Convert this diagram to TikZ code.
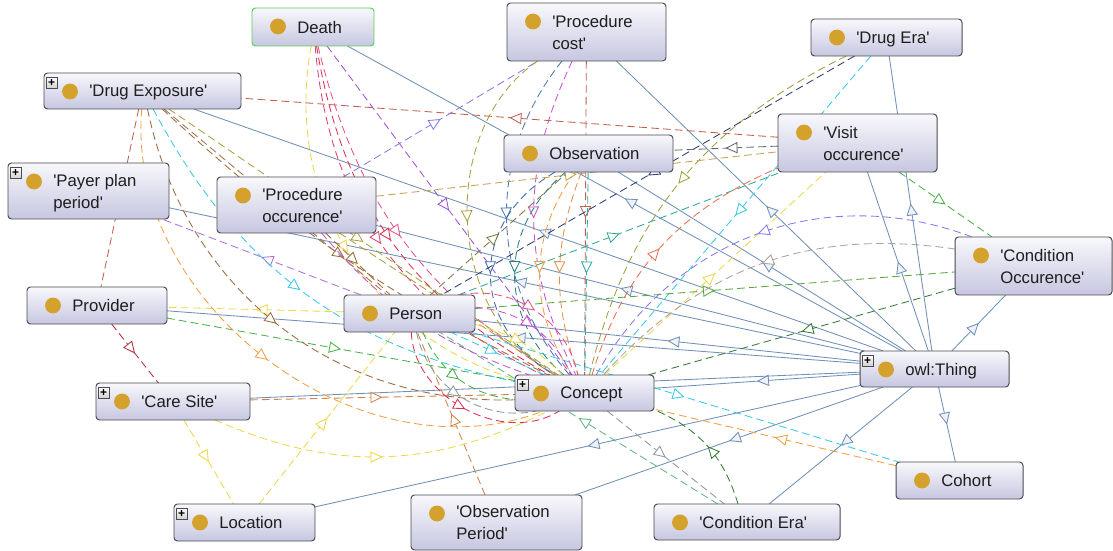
\documentclass[tikz,border=0pt]{standalone}
\usepackage{fontspec}
\setmainfont{Liberation Sans}
\usetikzlibrary{arrows.meta,decorations.markings}

\pgfdeclarelayer{edges}
\pgfsetlayers{edges,main}

% straight quote used in the class names
\newcommand\sq{\textquotesingle}

% box and text colours
\definecolor{boxline}{HTML}{4A4A52}
\definecolor{boxtop}{HTML}{F8F8FC}
\definecolor{boxbot}{HTML}{C6C7E0}
\definecolor{gold}{HTML}{D4A22C}
\definecolor{txt}{HTML}{1E1E1E}
\definecolor{isacol}{HTML}{7090B8}
\definecolor{isafill}{HTML}{EEF2F8}
\definecolor{deathline}{HTML}{5ACD5A}
% property colours
\definecolor{brick}{HTML}{C0604C}
\definecolor{violet1}{HTML}{8A78E8}
\definecolor{purple1}{HTML}{A050D8}
\definecolor{pink1}{HTML}{E8508A}
\definecolor{red1}{HTML}{D83050}
\definecolor{rose}{HTML}{E04070}
\definecolor{yellow1}{HTML}{EDD84A}
\definecolor{olive1}{HTML}{A8A040}
\definecolor{blue1}{HTML}{4A78B0}
\definecolor{magenta1}{HTML}{C850D0}
\definecolor{teal1}{HTML}{30A8A8}
\definecolor{blue2}{HTML}{3A6AA8}
\definecolor{teal2}{HTML}{2A8080}
\definecolor{orange1}{HTML}{EEA040}
\definecolor{orange2}{HTML}{E09050}
\definecolor{cyan1}{HTML}{38C8E8}
\definecolor{olive2}{HTML}{9AA040}
\definecolor{navy}{HTML}{2C3C70}
\definecolor{olive3}{HTML}{7A7A48}
\definecolor{gray1}{HTML}{606870}
\definecolor{ochre}{HTML}{C8A050}
\definecolor{teal3}{HTML}{30A890}
\definecolor{coral}{HTML}{E87050}
\definecolor{green1}{HTML}{48B048}
\definecolor{green2}{HTML}{58A838}
\definecolor{dgreen}{HTML}{357A35}
\definecolor{lavender}{HTML}{8878F0}
\definecolor{taupe}{HTML}{B0A0A0}
\definecolor{mint}{HTML}{60B880}
\definecolor{gray2}{HTML}{909898}
\definecolor{copper}{HTML}{D08048}
\definecolor{crimson}{HTML}{B03040}
\definecolor{orchid}{HTML}{B070D8}
\definecolor{brown1}{HTML}{9A6A40}
\definecolor{brown2}{HTML}{A07050}

\tikzset{
  klass/.style={draw=boxline, line width=0.7pt, rounded corners=2.5pt,
    top color=boxtop, bottom color=boxbot, inner sep=0pt, outer sep=0pt},
  dot/.style={circle, fill=gold, minimum size=11.3pt, inner sep=0pt},
  lbl/.style={anchor=west, align=left, inner sep=0pt, text depth=0pt,
    text=txt, font=\fontsize{11.9}{15.6}\selectfont},
  plusbox/.style={draw=gray!60!black, top color=white, bottom color=gray!35,
    minimum size=7.6pt, inner sep=0pt, line width=0.45pt,
    font=\fontsize{8.5}{8.5}\selectfont\bfseries},
  midtip/.style={postaction={decorate}, decoration={markings,
    mark=at position 0.5 with {\arrow{Triangle[length=8.5pt,width=8pt,fill=#1]}}}},
  isa/.style={color=isacol, line width=0.6pt, midtip=isafill},
  rel/.style={color=#1, line width=0.6pt, dash pattern=on 5.5pt off 3pt, midtip=white},
}

% class box: [style] name, x1, y1, x2, y2, label
\newcommand\klass[7][]{%
  \node[klass,#1,minimum width={(#5-#3)*0.025cm},minimum height={(#6-#4)*0.025cm}]
    (#2) at ({(#3+#5)/2},{(#4+#6)/2}) {};
  \node[dot] (#2-dot) at ({#3+26},{#4+18.5}) {};
  \node[lbl] (#2-txt) at ({#3+45},{(#4+#6)/2}) {#7};
}
\newcommand\plusmark[1]{%
  \node[plusbox] (#1-plus) at ([shift={(7.5,9.5)}]#1.north west) {+};
}

\begin{document}
\begin{tikzpicture}[x=0.025cm, y=-0.025cm]
\useasboundingbox (0,0) rectangle (1113,551);

% classes
\klass[draw=deathline]{death}{252}{8}{374}{46}{Death}
\klass{pcost}{507}{3}{666}{61}{\sq Procedure\\cost\sq}
\klass{dera}{811}{19}{962}{56}{\sq Drug Era\sq}
\klass{dexp}{44}{73}{241}{109}{\sq Drug Exposure\sq}
\klass{obs}{504}{135}{673}{172}{Observation}
\klass{visit}{778}{114}{937}{172}{\sq Visit\\occurence\sq}
\klass{payer}{8}{163}{169}{219}{\sq Payer plan\\period\sq}
\klass{pocc}{217}{177}{376}{233}{\sq Procedure\\occurence\sq}
\klass{cocc}{955}{237}{1112}{295}{\sq Condition\\Occurence\sq}
\klass{prov}{27}{287}{167}{324}{Provider}
\klass{person}{344}{295}{475}{332}{Person}
\klass{thing}{860}{351}{1009}{387}{owl:Thing}
\klass{concept}{515}{375}{654}{411}{Concept}
\klass{care}{96}{383}{250}{420}{\sq Care Site\sq}
\klass{cohort}{896}{462}{1023}{499}{Cohort}
\klass{loc}{174}{504}{315}{541}{Location}
\klass{operiod}{411}{495}{582}{550}{\sq Observation\\Period\sq}
\klass{cera}{654}{504}{840}{540}{\sq Condition Era\sq}

\plusmark{dexp}
\plusmark{payer}
\plusmark{thing}
\plusmark{concept}
\plusmark{care}
\plusmark{loc}

\begin{pgfonlayer}{edges}
\fill[white] (0,0) rectangle (1113,551);

% subclass links from owl:Thing
\foreach \n in {death,pcost,dera,dexp,obs,visit,payer,pocc,cocc,prov,person,concept,care,cohort,loc,operiod,cera}
  \draw[isa] (thing) -- (\n);

% object properties
\draw[rel=brick] (visit) -- (dexp);
\draw[rel=violet1] (pocc) -- (pcost);
\draw[rel=purple1] (death) -- (concept);
\draw[rel=pink1, bend right=22] (death) to (concept);
\draw[rel=red1, bend right=26] (death) to (concept);
\draw[rel=rose, bend right=30] (death) to (concept);
\draw[rel=yellow1, bend right=42] (death) to (concept);
\draw[rel=brick] (pcost) -- (concept);
\draw[rel=olive1, bend right=59] (pcost) to (concept);
\draw[rel=blue1, bend right=40] (pcost) to (concept);
\draw[rel=magenta1, bend right=26] (pcost) to (concept);
\draw[rel=teal1] (obs) -- (concept);
\draw[rel=blue2, bend right=60, looseness=1.25] (obs) to (concept);
\draw[rel=teal2, bend right=50, looseness=1.1] (obs) to (concept);
\draw[rel=orange1, bend right=35] (obs) to (concept);
\draw[rel=orange2, bend right=20] (obs) to (concept);
\draw[rel=cyan1] (dera) -- (concept);
\draw[rel=olive2, bend right=25] (dera) to (concept);
\draw[rel=navy] (dera) -- (person);
\draw[rel=olive3] (person) -- (obs);
\draw[rel=gray1] (visit) -- (obs);
\draw[rel=ochre] (pocc) -- (visit);
\draw[rel=teal3] (person) -- (visit);
\draw[rel=yellow1] (concept) -- (visit);
\draw[rel=coral, bend left=25] (concept) to (visit);
\draw[rel=green1] (visit) -- (cocc);
\draw[rel=green2] (person) -- (cocc);
\draw[rel=dgreen] (cocc) -- (concept);
\draw[rel=lavender, bend right=41] (cocc) to (concept);
\draw[rel=taupe, bend right=28] (cocc) to (concept);
\draw[rel=cyan1] (person) -- (cohort);
\draw[rel=orange1] (cohort) -- (concept);
\draw[rel=mint] (cera) -- (person);
\draw[rel=gray2] (concept) -- (cera);
\draw[rel=dgreen, bend right=25] (cera) to (concept);
\draw[rel=copper] (operiod) -- (person);
\draw[rel=yellow1] (loc) -- (person);
\draw[rel=yellow1] (care) -- (loc);
\draw[rel=yellow1, bend right=25] (care) to (concept);
\draw[rel=copper] (care) -- (concept);
\draw[rel=crimson] (prov) -- (care);
\draw[rel=yellow1] (person) -- (prov);
\draw[rel=green1] (prov) -- (concept);
\draw[rel=brick] (dexp) -- (prov);
\draw[rel=orchid] (person) -- (payer);
\draw[rel=cyan1, bend right=25] (dexp) to (concept);
\draw[rel=brown1, bend right=40] (dexp) to (concept);
\draw[rel=orange1, bend right=58] (dexp) to (concept);
\draw[rel=brown1, bend right=8] (dexp) to (concept);
\draw[rel=olive1] (dexp) -- (concept);
\draw[rel=brown2] (dexp) -- (person);
\draw[rel=olive1] (pocc) -- (concept);
\draw[rel=brown1] (pocc) -- (person);
\draw[rel=magenta1, bend right=15] (pocc) to (concept);
\draw[rel=magenta1, bend left=30] (person) to (concept);
\draw[rel=yellow1, bend left=15] (person) to (concept);
\draw[rel=cyan1] (person) -- (concept);
\draw[rel=green1, bend right=30] (person) to (concept);
\draw[rel=gray2, bend right=45] (person) to (concept);
\draw[rel=red1, bend right=60] (person) to (concept);
\draw[rel=pink1, bend left=45] (person) to (concept);
\end{pgfonlayer}
\end{tikzpicture}
\end{document}
